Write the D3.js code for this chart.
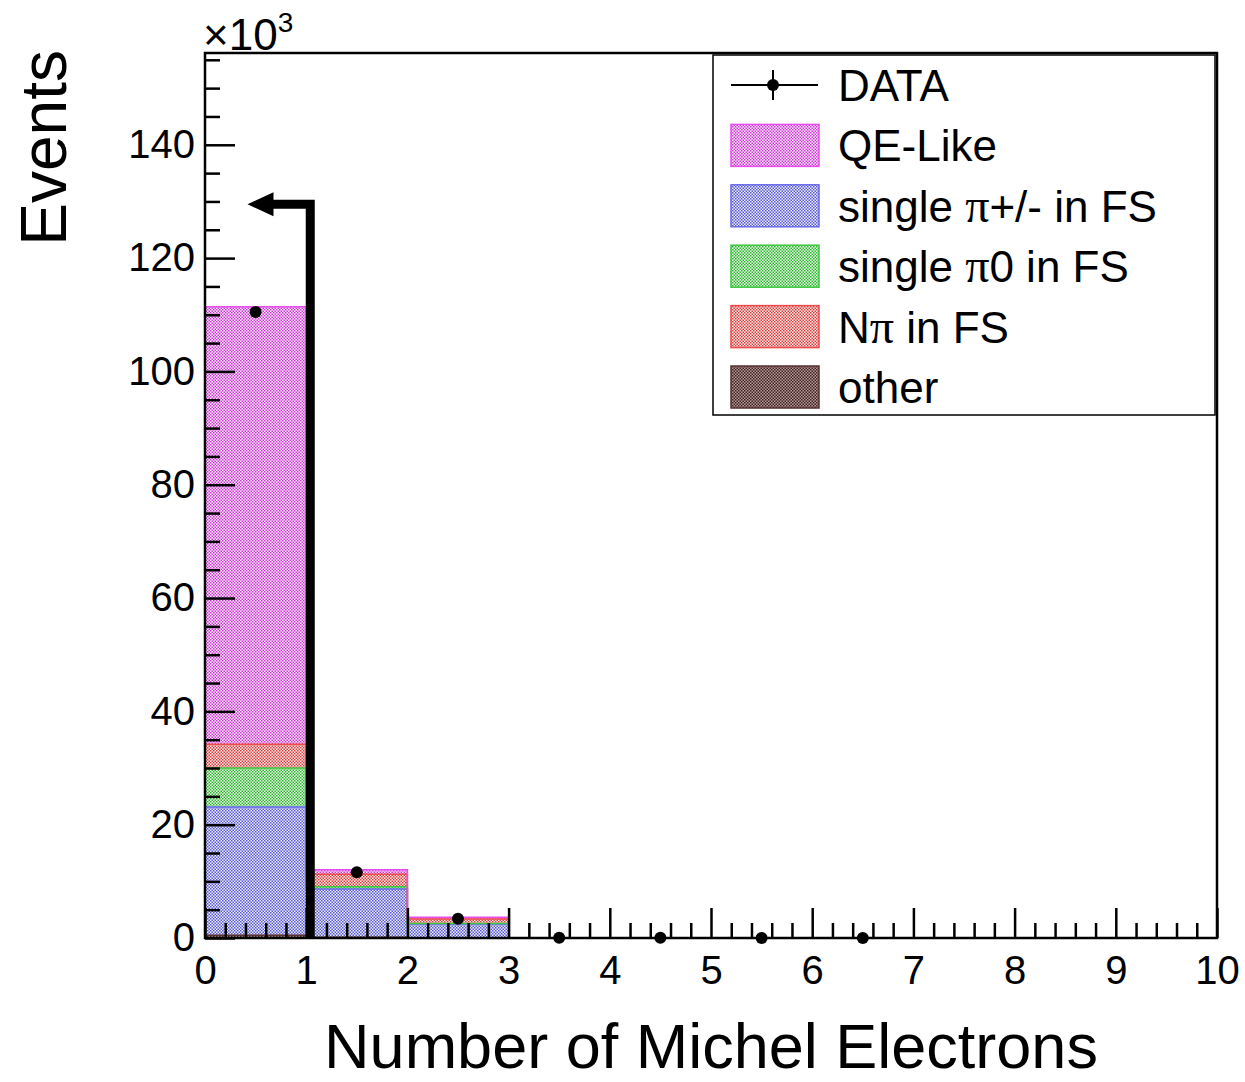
<!DOCTYPE html>
<html>
<head>
<meta charset="utf-8">
<script src="https://cdn.jsdelivr.net/npm/d3@7"></script>
<style>
  body { margin: 0; background: #fff; }
  svg { font-family: "Liberation Sans", Arial, sans-serif; }
</style>
</head>
<body>
<div id="chart"></div>
<script>
// bins: number of Michel electrons, 0..10 (values in 10^3 events)
const binEdges = [0, 1, 2, 3, 4, 5, 6, 7, 8, 9, 10];
const other  = [0.5, 0.15, 0.05, 0, 0, 0, 0, 0, 0, 0];
const piPM   = [22.6, 8.5, 2.4, 0.03, 0, 0, 0, 0, 0, 0];
const pi0    = [6.9, 0.4, 0.1, 0, 0, 0, 0, 0, 0, 0];
const nPi    = [4.2, 2.2, 0.8, 0.01, 0, 0, 0, 0, 0, 0];
const qeLike = [77.2, 0.8, 0.3, 0.01, 0, 0, 0, 0, 0, 0];
const dataPts = [110.5, 11.6, 3.4, 0.05, 0.03, 0.02, 0.02, 0, 0, 0];
const yTicks = [0, 20, 40, 60, 80, 100, 120, 140];

// cut arrow
const cutValue = 1.04;
const arrowLevel = 129.5;
const arrowTip = 0.42;

// stack from bottom to top
const layers = [
  { name: "other", vals: other, dot: "#3a1f1f", bg: "#b89a9a", line: "#5a3030" },
  { name: "single π+/- in FS", vals: piPM, dot: "#5a5ad0", bg: "#ececff", line: "#6a6aee" },
  { name: "single π0 in FS", vals: pi0, dot: "#2fb42f", bg: "#eaffea", line: "#3cc83c" },
  { name: "Nπ in FS", vals: nPi, dot: "#d84040", bg: "#ffeaea", line: "#ee4a4a" },
  { name: "QE-Like", vals: qeLike, dot: "#cc3ad4", bg: "#ffeaff", line: "#e84cee" }
];

const W = 1245, H = 1082;
const x0 = 205, x1 = 1217, yb = 938, yt = 53;

const svg = d3.select("#chart").append("svg")
  .attr("width", W).attr("height", H);

const x = d3.scaleLinear().domain([0, 10]).range([x0, x1]);
const y = d3.scaleLinear().domain([0, 156.2]).range([yb, yt]);

// ROOT-like fill patterns
const defs = svg.append("defs");
layers.forEach((l, i) => {
  const p = defs.append("pattern")
    .attr("id", "pat" + i)
    .attr("width", 3).attr("height", 3)
    .attr("patternUnits", "userSpaceOnUse");
  p.append("rect").attr("width", 3).attr("height", 3).attr("fill", l.bg);
  p.append("rect").attr("x", 0).attr("y", 0).attr("width", 1.5).attr("height", 1.5).attr("fill", l.dot);
  p.append("rect").attr("x", 1.5).attr("y", 1.5).attr("width", 1.5).attr("height", 1.5).attr("fill", l.dot);
});

// cumulative stacks
const nb = binEdges.length - 1;
let cum = new Array(nb).fill(0);
const tops = layers.map(l => {
  cum = cum.map((c, i) => c + l.vals[i]);
  return cum.slice();
});

// draw from top layer down so lower layers cover
for (let k = layers.length - 1; k >= 0; k--) {
  const t = tops[k];
  const bins = d3.range(nb).filter(i => t[i] > 0);
  svg.append("g").selectAll("rect")
    .data(bins)
    .join("rect")
    .attr("x", i => x(binEdges[i]))
    .attr("width", i => x(binEdges[i + 1]) - x(binEdges[i]))
    .attr("y", i => y(t[i]))
    .attr("height", i => y(0) - y(t[i]))
    .attr("fill", `url(#pat${k})`);
}
// outlines
layers.forEach((l, k) => {
  const t = tops[k];
  const pts = [];
  for (let i = 0; i < nb; i++) {
    pts.push([x(binEdges[i]), y(t[i])]);
    pts.push([x(binEdges[i + 1]), y(t[i])]);
  }
  svg.append("path")
    .attr("d", d3.line()(pts))
    .attr("fill", "none")
    .attr("stroke", l.line)
    .attr("stroke-width", 1.5);
});

// axes
const xAxis = d3.axisBottom(x).tickValues(d3.range(0, 11)).tickSize(-30).tickPadding(18).tickFormat(d3.format("d"));
const xMinor = d3.axisBottom(x).tickValues(d3.range(0, 50).map(i => i * 0.2).filter(v => Math.abs(v - Math.round(v)) > 1e-6)).tickSize(-15).tickFormat("");
const yAxis = d3.axisLeft(y).tickValues(yTicks).tickSize(-30).tickPadding(10).tickFormat(d3.format("d"));
const yMinor = d3.axisLeft(y).tickValues(d3.range(0, 32).map(i => i * 5).filter(v => v % 20 !== 0 && v <= 156)).tickSize(-15).tickFormat("");

function styleAxis(g) {
  g.select(".domain").remove();
  g.selectAll("line").attr("stroke", "#000").attr("stroke-width", 2.5);
  g.selectAll("text").attr("font-size", 40).attr("fill", "#000")
    .attr("font-family", "Liberation Sans, Arial, sans-serif");
}
svg.append("g").attr("transform", `translate(0,${yb})`).call(xAxis).call(styleAxis);
svg.append("g").attr("transform", `translate(0,${yb})`).call(xMinor).call(styleAxis);
svg.append("g").attr("transform", `translate(${x0},0)`).call(yAxis).call(styleAxis);
svg.append("g").attr("transform", `translate(${x0},0)`).call(yMinor).call(styleAxis);

// frame
svg.append("rect")
  .attr("x", x0).attr("y", yt).attr("width", x1 - x0).attr("height", yb - yt)
  .attr("fill", "none").attr("stroke", "#000").attr("stroke-width", 2.5);

// data points
const dpBins = d3.range(nb).filter(i => dataPts[i] > 0);
svg.append("g").selectAll("circle")
  .data(dpBins)
  .join("circle")
  .attr("cx", i => x((binEdges[i] + binEdges[i + 1]) / 2))
  .attr("cy", i => y(dataPts[i]))
  .attr("r", 6)
  .attr("fill", "#000");

// cut arrow
svg.append("path")
  .attr("d", d3.line()([[x(cutValue), y(0) + 1], [x(cutValue), y(arrowLevel)], [x(arrowTip) + 18, y(arrowLevel)]]))
  .attr("fill", "none").attr("stroke", "#000").attr("stroke-width", 9)
  .attr("stroke-linejoin", "miter");
svg.append("path")
  .attr("d", `M${x(arrowTip)},${y(arrowLevel)} L${x(arrowTip) + 26},${y(arrowLevel) - 12} L${x(arrowTip) + 26},${y(arrowLevel) + 12} Z`)
  .attr("fill", "#000");

// exponent label
const ex = svg.append("text").attr("x", x0 - 2).attr("y", 50).attr("font-size", 44).attr("fill", "#000");
ex.append("tspan").text("×10");
ex.append("tspan").attr("font-size", 28).attr("dy", -18).text("3");

// axis titles
svg.append("text")
  .attr("x", (x0 + x1) / 2).attr("y", 1068)
  .attr("text-anchor", "middle").attr("font-size", 63).attr("fill", "#000")
  .text("Number of Michel Electrons");
svg.append("text")
  .attr("transform", "translate(66,50) rotate(-90)")
  .attr("text-anchor", "end").attr("font-size", 64).attr("fill", "#000")
  .text("Events");

// legend
const lg = svg.append("g");
lg.append("rect").attr("x", 713).attr("y", 55).attr("width", 502).attr("height", 360)
  .attr("fill", "#fff").attr("stroke", "#000").attr("stroke-width", 1.5);

const legendItems = [
  { label: ["DATA"], kind: "data" },
  { label: ["QE-Like"], k: 4 },
  { label: ["single ", "π", "+/- in FS"], k: 1 },
  { label: ["single ", "π", "0 in FS"], k: 2 },
  { label: ["N", "π", " in FS"], k: 3 },
  { label: ["other"], k: 0 }
];
legendItems.forEach((it, j) => {
  const cy = 85 + j * 60.4;
  if (it.kind === "data") {
    lg.append("line").attr("x1", 731).attr("x2", 818).attr("y1", cy).attr("y2", cy).attr("stroke", "#000").attr("stroke-width", 2);
    lg.append("line").attr("x1", 773).attr("x2", 773).attr("y1", cy - 15).attr("y2", cy + 15).attr("stroke", "#000").attr("stroke-width", 2);
    lg.append("circle").attr("cx", 773).attr("cy", cy).attr("r", 6).attr("fill", "#000");
  } else {
    lg.append("rect").attr("x", 731).attr("y", cy - 21).attr("width", 88).attr("height", 42)
      .attr("fill", `url(#pat${it.k})`).attr("stroke", layers[it.k].line).attr("stroke-width", 1.5);
  }
  const t = lg.append("text").attr("x", 838).attr("y", cy + 16).attr("font-size", 44).attr("fill", "#000");
  it.label.forEach(s => {
    const ts = t.append("tspan").text(s);
    if (s === "π") ts.attr("font-family", "Liberation Serif, serif").attr("font-size", 48);
  });
});
</script>
</body>
</html>
